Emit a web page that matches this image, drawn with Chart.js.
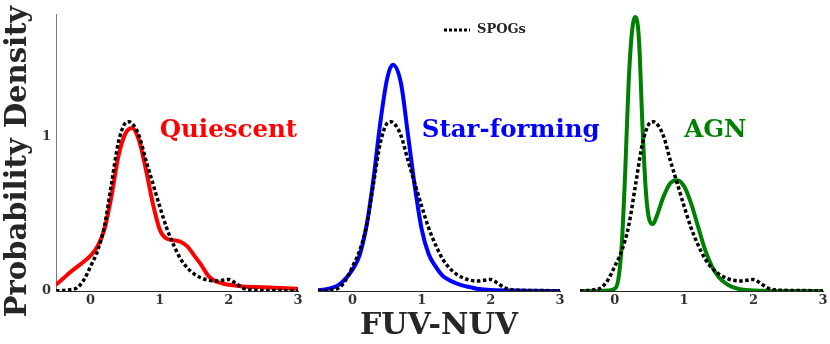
<!DOCTYPE html>
<html><head><meta charset="utf-8">
<script src="https://cdn.jsdelivr.net/npm/chart.js@4.4.1/dist/chart.umd.min.js"></script>
<style>
html,body{margin:0;padding:0;background:#fff;}
#wrap{position:relative;width:830px;height:344px;overflow:hidden;background:#fff;}
canvas{position:absolute;left:0;top:0;}
</style></head><body>
<div id="wrap">
<canvas id="p1" width="830" height="344"></canvas>
<canvas id="p2" width="830" height="344"></canvas>
<canvas id="p3" width="830" height="344"></canvas>
</div>
<script>
// ---- data ----
const xTicks = [0, 1, 2, 3];
const yTicks = [0, 1];
const panelNames = ['Quiescent', 'Star-forming', 'AGN'];
const refLabel = 'SPOGs';
const xTitle = 'FUV-NUV';
const yTitle = 'Probability Density';

const spogX = [-0.5,-0.4,-0.3,-0.2,-0.1,0,0.1,0.2,0.3,0.4,0.5,0.55,0.6,0.7,0.8,0.9,1.0,1.1,1.2,1.3,1.4,1.5,1.6,1.7,1.8,1.9,2.0,2.1,2.2,2.3,2.5,2.75,3.0];
const spogY = [0.0,0.003,0.008,0.02,0.07,0.16,0.26,0.42,0.69,0.96,1.09,1.10,1.09,1.01,0.85,0.70,0.55,0.41,0.30,0.21,0.15,0.11,0.085,0.07,0.065,0.07,0.075,0.05,0.02,0.008,0.004,0.003,0.0];

const quiescentX = [-0.5,-0.4,-0.3,-0.2,-0.1,0,0.1,0.2,0.3,0.4,0.5,0.6,0.7,0.8,0.9,1.0,1.1,1.2,1.3,1.4,1.5,1.6,1.7,1.8,1.9,2.0,2.2,2.5,3.0];
const quiescentY = [0.04,0.08,0.12,0.155,0.19,0.23,0.29,0.40,0.61,0.87,1.02,1.06,0.98,0.79,0.57,0.40,0.34,0.33,0.32,0.29,0.23,0.17,0.10,0.065,0.05,0.04,0.03,0.025,0.015];

const starX = [-0.5,-0.4,-0.3,-0.2,-0.1,0,0.1,0.2,0.3,0.4,0.5,0.58,0.7,0.8,0.9,1.0,1.1,1.2,1.3,1.4,1.5,1.6,1.7,1.8,2.0,2.5,3.0];
const starY = [0.005,0.01,0.02,0.04,0.08,0.14,0.23,0.42,0.72,1.09,1.38,1.47,1.35,1.02,0.68,0.40,0.24,0.16,0.10,0.07,0.05,0.035,0.025,0.015,0.006,0.002,0.0];

const agnX = [-0.5,-0.2,-0.1,0,0.05,0.1,0.15,0.2,0.25,0.3,0.35,0.4,0.45,0.5,0.55,0.6,0.7,0.8,0.9,1.0,1.1,1.2,1.3,1.4,1.5,1.6,1.7,1.8,2.0,2.5,3.0];
const agnY = [0,0,0.003,0.015,0.07,0.29,0.76,1.35,1.69,1.78,1.63,1.07,0.64,0.46,0.435,0.48,0.61,0.70,0.72,0.68,0.57,0.42,0.27,0.16,0.09,0.05,0.025,0.012,0.003,0,0];

// ---- styling ----
const FONT = "'DejaVu Serif', serif";
const TEXT = '#262626';
const colors = ['#ff0000', '#0000ff', '#008000'];

function pts(xs, ys) { return xs.map((x, i) => ({ x: x, y: ys[i] })); }

const decoPlugin = {
  id: 'deco',
  afterDraw(chart, args, o) {
    const ctx = chart.ctx, xs = chart.scales.x, ys = chart.scales.y, ca = chart.chartArea;
    ctx.save();
    ctx.font = `bold ${o.labelSize}px ${FONT}`;
    ctx.fillStyle = o.color;
    ctx.textAlign = 'left';
    ctx.textBaseline = 'alphabetic';
    ctx.fillText(o.text, xs.getPixelForValue(o.lx), ys.getPixelForValue(o.ly));
    if (o.yTitle) {
      ctx.save();
      ctx.translate(ca.left - 38, (ca.top + ca.bottom) / 2 + 9);
      ctx.rotate(-Math.PI / 2);
      ctx.font = `bold 29px ${FONT}`;
      ctx.fillStyle = TEXT;
      ctx.textAlign = 'center';
      ctx.textBaseline = 'middle';
      ctx.fillText(o.yTitle, 0, 0);
      ctx.restore();
    }
    if (o.legend) {
      const lx = ca.left + 126, ly = ca.top + 16;
      ctx.strokeStyle = '#000';
      ctx.lineWidth = 3;
      ctx.setLineDash([3, 2]);
      ctx.beginPath();
      ctx.moveTo(lx, ly);
      ctx.lineTo(lx + 26, ly);
      ctx.stroke();
      ctx.setLineDash([]);
      ctx.font = `bold 13px ${FONT}`;
      ctx.fillStyle = TEXT;
      ctx.textAlign = 'left';
      ctx.textBaseline = 'middle';
      ctx.fillText(o.legend, lx + 33, ly);
    }
    ctx.restore();
  }
};

const layouts = [
  { left: 0, right: 830 - 298 },
  { left: 318, right: 830 - 560 },
  { left: 580, right: 830 - 823 }
];
const series = [[quiescentX, quiescentY], [starX, starY], [agnX, agnY]];

['p1', 'p2', 'p3'].forEach((id, i) => {
  new Chart(document.getElementById(id), {
    type: 'line',
    data: {
      datasets: [
        { label: refLabel, data: pts(spogX, spogY), borderColor: '#000', borderWidth: 3.5,
          borderDash: [3.5, 2.5], borderCapStyle: 'butt', order: 0 },
        { label: panelNames[i], data: pts(series[i][0], series[i][1]), borderColor: colors[i],
          borderWidth: 4, order: 1 }
      ]
    },
    options: {
      responsive: false, animation: false, devicePixelRatio: 1,
      layout: { padding: { left: layouts[i].left, right: layouts[i].right, top: 14, bottom: 0 } },
      elements: { point: { radius: 0 }, line: { cubicInterpolationMode: 'monotone', fill: false } },
      plugins: {
        legend: { display: false }, tooltip: { enabled: false },
        deco: { text: panelNames[i], color: colors[i], labelSize: 24.5, lx: 1.0, ly: 1.0,
                yTitle: i === 0 ? yTitle : null, legend: i === 1 ? refLabel : null }
      },
      scales: {
        x: {
          type: 'linear', min: -0.5, max: 3,
          afterBuildTicks: s => { s.ticks = xTicks.map(v => ({ value: v })); },
          afterFit: s => { s.height = 53; },
          grid: { display: false, drawTicks: false },
          border: { display: true, color: TEXT, width: 1 },
          ticks: { font: { family: FONT, size: 13, weight: 'bold' }, color: '#333', padding: 2, maxRotation: 0 },
          title: { display: i === 1, text: xTitle, color: TEXT,
                   font: { family: FONT, size: 30, weight: 'bold' }, padding: { top: 0, bottom: 0 } }
        },
        y: {
          type: 'linear', min: 0, max: 1.8, display: i === 0,
          afterBuildTicks: s => { s.ticks = yTicks.map(v => ({ value: v })); },
          afterFit: s => { s.width = i === 0 ? 56 : 0; },
          grid: { display: false, drawTicks: false },
          border: { display: true, color: '#777', width: 1 },
          ticks: { font: { family: FONT, size: 13, weight: 'bold' }, color: '#333', padding: 5 }
        }
      }
    },
    plugins: [decoPlugin]
  });
});
</script>
</body></html>
